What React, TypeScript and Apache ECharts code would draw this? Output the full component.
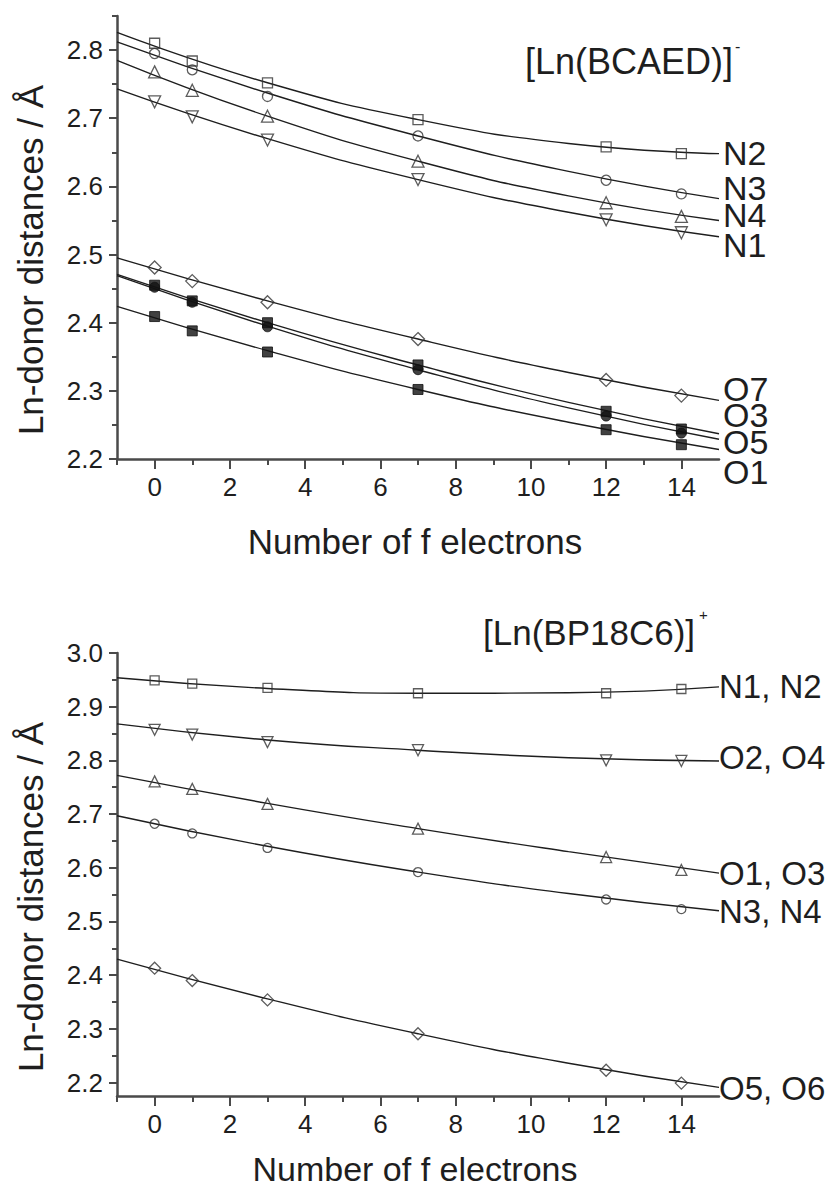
import React, { useEffect, useRef } from "react";
import * as echarts from "echarts";

// ---- data ----
const xValues = [0, 1, 3, 7, 12, 14];
const fitX = [-1, 3, 7, 11, 15];
const xMajorTicks = [0, 2, 4, 6, 8, 10, 12, 14];
const xMinorTicks = [-1, 1, 3, 5, 7, 9, 11, 13];

const topYMajor = [2.2, 2.3, 2.4, 2.5, 2.6, 2.7, 2.8];
const topYMinor = [2.25, 2.35, 2.45, 2.55, 2.65, 2.75, 2.85];
const botYMajor = [2.2, 2.3, 2.4, 2.5, 2.6, 2.7, 2.8, 2.9, 3.0];
const botYMinor = [2.25, 2.35, 2.45, 2.55, 2.65, 2.75, 2.85, 2.95];

// top panel [Ln(BCAED)]-  (markers, then fitted curve at fitX)
const topN2 = [2.81, 2.784, 2.752, 2.698, 2.658, 2.648];
const topN2Fit = [2.826, 2.752, 2.698, 2.663, 2.648];
const topN3 = [2.795, 2.771, 2.732, 2.674, 2.609, 2.589];
const topN3Fit = [2.812, 2.737, 2.674, 2.622, 2.582];
const topN4 = [2.768, 2.741, 2.703, 2.637, 2.576, 2.556];
const topN4Fit = [2.785, 2.703, 2.637, 2.586, 2.55];
const topN1 = [2.724, 2.702, 2.668, 2.61, 2.551, 2.532];
const topN1Fit = [2.743, 2.67, 2.61, 2.562, 2.526];
const topO7 = [2.481, 2.461, 2.43, 2.376, 2.316, 2.293];
const topO7Fit = [2.495, 2.432, 2.376, 2.327, 2.286];
const topO3 = [2.455, 2.432, 2.4, 2.338, 2.27, 2.244];
const topO3Fit = [2.471, 2.4, 2.338, 2.283, 2.237];
const topO5 = [2.452, 2.43, 2.394, 2.331, 2.263, 2.238];
const topO5Fit = [2.469, 2.395, 2.331, 2.275, 2.229];
const topO1 = [2.409, 2.388, 2.357, 2.302, 2.243, 2.221];
const topO1Fit = [2.424, 2.359, 2.302, 2.254, 2.214];

// bottom panel [Ln(BP18C6)]+
const botN1N2 = [2.949, 2.943, 2.935, 2.925, 2.925, 2.933];
const botN1N2Fit = [2.954, 2.934, 2.925, 2.926, 2.937];
const botO2O4 = [2.857, 2.848, 2.834, 2.819, 2.8, 2.799];
const botO2O4Fit = [2.868, 2.838, 2.819, 2.805, 2.799];
const botO1O3 = [2.761, 2.747, 2.719, 2.673, 2.62, 2.596];
const botO1O3Fit = [2.772, 2.72, 2.673, 2.63, 2.59];
const botN3N4 = [2.682, 2.664, 2.637, 2.592, 2.541, 2.523];
const botN3N4Fit = [2.697, 2.64, 2.592, 2.552, 2.52];
const botO5O6 = [2.413, 2.39, 2.354, 2.291, 2.223, 2.199];
const botO5O6Fit = [2.43, 2.356, 2.291, 2.236, 2.191];

const FONT = "'Liberation Sans', Arial, sans-serif";
const INK = "#1e1e1e";
const AXIS = "#4a4a4a";

type Marker = { symbol: string; filled?: boolean; rotate?: number; size?: number };

function curve(name: string, data: number[], fit: number[], axisIndex: number, m: Marker) {
  return [
    {
      name: name + " fit",
      type: "line",
      xAxisIndex: axisIndex,
      yAxisIndex: axisIndex,
      data: fitX.map((x, i) => [x, fit[i]]),
      showSymbol: false,
      smooth: 0.5,
      lineStyle: { color: INK, width: 1.4 },
      z: 2,
    },
    {
      name,
      type: "scatter",
      xAxisIndex: axisIndex,
      yAxisIndex: axisIndex,
      data: xValues.map((x, i) => [x, data[i]]),
      symbol: m.symbol,
      symbolSize: m.size ?? 10,
      symbolRotate: m.rotate ?? 0,
      itemStyle: m.filled
        ? { color: "#111", borderColor: "#111", borderWidth: 1 }
        : { color: "rgba(0,0,0,0)", borderColor: "#333", borderWidth: 1.3 },
      z: 3,
    },
  ];
}

function mainX(grid: number) {
  return {
    type: "value",
    gridIndex: grid,
    min: -1,
    max: 15,
    position: "bottom",
    axisLine: { show: true, onZero: false, lineStyle: { color: AXIS, width: 2.5 } },
    axisTick: { show: true, customValues: xMajorTicks, length: 10, lineStyle: { color: AXIS, width: 2 } },
    axisLabel: { customValues: xMajorTicks, fontSize: 26, margin: 15, color: INK, fontFamily: FONT },
    splitLine: { show: false },
  };
}
function minorX(grid: number) {
  return {
    type: "value",
    gridIndex: grid,
    min: -1,
    max: 15,
    position: "bottom",
    axisLine: { show: false, onZero: false },
    axisTick: { show: true, customValues: xMinorTicks, length: 6, lineStyle: { color: AXIS, width: 2 } },
    axisLabel: { show: false },
    splitLine: { show: false },
  };
}
function mainY(grid: number, min: number, max: number, major: number[]) {
  return {
    type: "value",
    gridIndex: grid,
    min,
    max,
    position: "left",
    axisLine: { show: true, onZero: false, lineStyle: { color: AXIS, width: 2.5 } },
    axisTick: { show: true, customValues: major, length: 8, lineStyle: { color: AXIS, width: 2 } },
    axisLabel: {
      customValues: major,
      fontSize: 26,
      margin: 14,
      color: INK,
      fontFamily: FONT,
      formatter: (v: number) => v.toFixed(1),
    },
    splitLine: { show: false },
  };
}
function minorY(grid: number, min: number, max: number, minor: number[]) {
  return {
    type: "value",
    gridIndex: grid,
    min,
    max,
    position: "left",
    axisLine: { show: false, onZero: false },
    axisTick: { show: true, customValues: minor, length: 5, lineStyle: { color: AXIS, width: 2 } },
    axisLabel: { show: false },
    splitLine: { show: false },
  };
}

function label(text: string, x: number, y: number, size = 33, align = "left") {
  return {
    type: "text",
    x,
    y,
    style: { text, fontSize: size, fontFamily: FONT, fill: INK, textAlign: align, textVerticalAlign: "middle" },
  };
}

function yTitle(y: number) {
  return {
    type: "text",
    x: 30,
    y,
    rotation: Math.PI / 2,
    style: {
      text: "Ln-donor distances / Å",
      fontSize: 35,
      fontFamily: FONT,
      fill: INK,
      textAlign: "center",
      textVerticalAlign: "middle",
    },
  };
}

export default function App() {
  const ref = useRef<HTMLDivElement>(null);
  useEffect(() => {
    if (!ref.current) return;
    const chart = echarts.init(ref.current, undefined, { renderer: "svg" });
    const series = [
      ...curve("N2", topN2, topN2Fit, 0, { symbol: "rect" }),
      ...curve("N3", topN3, topN3Fit, 0, { symbol: "circle" }),
      ...curve("N4", topN4, topN4Fit, 0, { symbol: "triangle", size: 12 }),
      ...curve("N1", topN1, topN1Fit, 0, { symbol: "triangle", rotate: 180, size: 12 }),
      ...curve("O7", topO7, topO7Fit, 0, { symbol: "diamond", size: 13 }),
      ...curve("O3", topO3, topO3Fit, 0, { symbol: "rect", filled: true }),
      ...curve("O5", topO5, topO5Fit, 0, { symbol: "circle", filled: true }),
      ...curve("O1", topO1, topO1Fit, 0, { symbol: "rect", filled: true }),
      ...curve("N1, N2", botN1N2, botN1N2Fit, 1, { symbol: "rect", size: 9 }),
      ...curve("O2, O4", botO2O4, botO2O4Fit, 1, { symbol: "triangle", rotate: 180, size: 11 }),
      ...curve("O1, O3", botO1O3, botO1O3Fit, 1, { symbol: "triangle", size: 11 }),
      ...curve("N3, N4", botN3N4, botN3N4Fit, 1, { symbol: "circle", size: 9 }),
      ...curve("O5, O6", botO5O6, botO5O6Fit, 1, { symbol: "diamond", size: 12 }),
    ];
    chart.setOption({
      animation: false,
      backgroundColor: "#ffffff",
      grid: [
        { left: 117, top: 16, width: 602, height: 443 },
        { left: 117, top: 653, width: 602, height: 443 },
      ],
      xAxis: [mainX(0), mainX(1), minorX(0), minorX(1)],
      yAxis: [
        mainY(0, 2.2, 2.85, topYMajor),
        mainY(1, 2.175, 3.0, botYMajor),
        minorY(0, 2.2, 2.85, topYMinor),
        minorY(1, 2.175, 3.0, botYMinor),
      ],
      series,
      graphic: [
        // panel titles
        label("[Ln(BCAED)]", 525, 61, 36),
        label("-", 735, 46, 16),
        label("[Ln(BP18C6)]", 483, 632, 35),
        label("+", 699, 614, 15),
        // top labels
        label("N2", 723, 153, 34),
        label("N3", 723, 188, 34),
        label("N4", 723, 215, 34),
        label("N1", 723, 245, 34),
        label("O7", 723, 389, 34),
        label("O3", 723, 415, 34),
        label("O5", 723, 442, 34),
        label("O1", 723, 472, 34),
        // bottom labels
        label("N1, N2", 719, 686, 33),
        label("O2, O4", 719, 757, 33),
        label("O1, O3", 719, 873, 33),
        label("N3, N4", 719, 911, 33),
        label("O5, O6", 719, 1088, 33),
        // axis titles
        label("Number of f electrons", 415, 541, 35, "center"),
        label("Number of f electrons", 415, 1169, 34, "center"),
        yTitle(260),
        yTitle(897),
      ],
    });
    return () => chart.dispose();
  }, []);
  return <div ref={ref} style={{ position: "absolute", left: 0, top: 0, width: 835, height: 1187 }} />;
}
